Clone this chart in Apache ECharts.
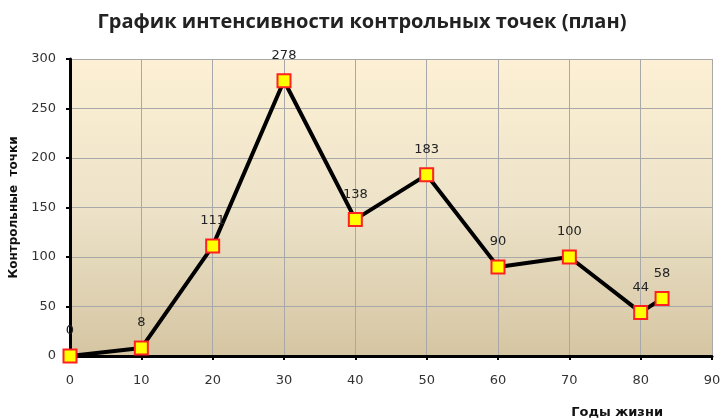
<!DOCTYPE html>
<html>
<head>
<meta charset="utf-8">
<script src="https://cdn.jsdelivr.net/npm/echarts@6/dist/echarts.min.js"></script>
<style>
  html, body { margin: 0; padding: 0; background: #fff; }
  #chart { width: 724px; height: 419px; }
</style>
</head>
<body>
<div id="chart"></div>
<script>
const years = [0, 10, 20, 30, 40, 50, 60, 70, 80, 83];
const points = [0, 8, 111, 278, 138, 183, 90, 100, 44, 58];

const chart = echarts.init(document.getElementById('chart'));
chart.setOption({
  backgroundColor: '#fff',
  title: {
    text: 'График интенсивности контрольных точек (план)',
    left: 'center',
    top: 7,
    textStyle: { fontFamily: 'Open Sans', fontSize: 20, fontWeight: 'bold', color: '#222' }
  },
  grid: {
    left: 70, right: 12, top: 59, bottom: 63,
    show: true,
    borderWidth: 0,
    backgroundColor: {
      type: 'linear', x: 0, y: 0, x2: 0, y2: 1,
      colorStops: [
        { offset: 0, color: '#fdf0d4' },
        { offset: 0.5, color: '#ede3c9' },
        { offset: 1, color: '#d5c5a2' }
      ]
    }
  },
  xAxis: {
    type: 'value',
    min: 0, max: 90, interval: 10,
    name: 'Годы жизни',
    nameLocation: 'end',
    nameGap: 0,
    nameTextStyle: {
      fontFamily: 'DejaVu Sans', fontSize: 13, fontWeight: 'bold', color: '#111',
      align: 'right', verticalAlign: 'top', padding: [50, 49, 0, 0]
    },
    axisLine: { lineStyle: { color: '#000', width: 3 } },
    axisTick: { show: true, length: 4, lineStyle: { color: '#000', width: 2 } },
    axisLabel: { fontFamily: 'DejaVu Sans', fontSize: 13, color: '#333', margin: 18 },
    splitLine: { show: true, lineStyle: { color: '#a8a8a8', width: 1 } }
  },
  yAxis: {
    type: 'value',
    min: 0, max: 300, interval: 50,
    name: 'Контрольные  точки',
    nameLocation: 'middle',
    nameGap: 48,
    nameTextStyle: { fontFamily: 'DejaVu Sans', fontSize: 12, fontWeight: 'bold', color: '#111' },
    axisLine: { show: true, lineStyle: { color: '#000', width: 3 } },
    axisTick: { show: true, length: 4, lineStyle: { color: '#000', width: 2 } },
    axisLabel: { fontFamily: 'DejaVu Sans', fontSize: 13, color: '#333', margin: 14 },
    splitLine: { show: true, lineStyle: { color: '#a8a8a8', width: 1 } }
  },
  series: [{
    type: 'line',
    data: years.map((x, i) => [x, points[i]]),
    symbol: 'rect',
    symbolSize: 13,
    showAllSymbol: true,
    lineStyle: { color: '#000', width: 4 },
    itemStyle: { color: '#ffff00', borderColor: '#ff2020', borderWidth: 2 },
    label: {
      show: true,
      position: 'top',
      distance: 11,
      fontFamily: 'DejaVu Sans',
      fontSize: 13,
      color: '#222',
      formatter: p => p.value[1]
    },
    z: 3
  }]
});
</script>
</body>
</html>
